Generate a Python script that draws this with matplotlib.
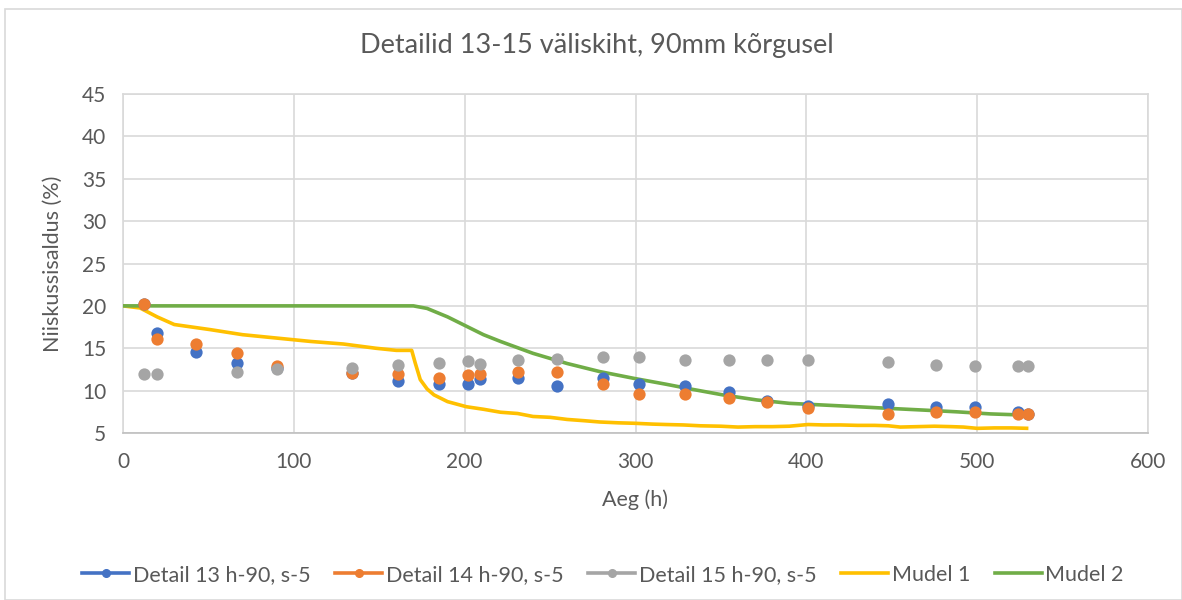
import matplotlib
matplotlib.use("Agg")
import matplotlib.pyplot as plt
from matplotlib.lines import Line2D
from matplotlib.patches import Rectangle

plt.rcParams['font.family'] = ['Lato', 'DejaVu Sans']

title = "Detailid 13-15 väliskiht, 90mm kõrgusel"
xlabel = "Aeg (h)"
ylabel = "Niiskussisaldus (%)"

# Measurement times (h)
t_meas = [12, 20, 43, 67, 90, 134, 161, 185, 202, 209, 231, 254, 281, 302, 329,
          355, 377, 401, 448, 476, 499, 524, 530]
detail13 = [20.2, 16.8, 14.55, 13.3, 12.7, 12.1, 11.15, 10.8, 10.8, 11.35, 11.45, 10.5, 11.45, 10.8, 10.6,
            9.8, 8.8, 8.2, 8.4, 8.1, 8.1, 7.5, 7.3]
detail14 = [20.2, 16.1, 15.5, 14.4, 12.85, 12.05, 11.95, 11.45, 11.8, 11.95, 12.15, 12.15, 10.8, 9.6, 9.6,
            9.1, 8.6, 8.0, 7.25, 7.45, 7.45, 7.2, 7.2]
detail15 = [11.95, 11.95, None, 12.25, 12.6, 12.7, 13.0, 13.25, 13.5, 13.2, 13.65, 13.7, 13.95, 13.95, 13.65,
            13.65, 13.65, 13.65, 13.35, 13.0, 12.85, 12.85, 12.85]

# Model 1
m1_t = [0, 10, 20, 30, 51, 70, 90, 110, 129, 148, 160, 169, 171, 174, 178, 182, 190, 201, 211, 221,
        231, 240, 250, 260, 270, 279, 290, 299, 310, 318, 328, 338, 350, 360, 370, 380, 390, 401, 410,
        420, 430, 440, 448, 455, 465, 475, 485, 492, 500, 510, 520, 530]
m1_v = [20.0, 19.75, 18.7, 17.8, 17.2, 16.6, 16.2, 15.8, 15.5, 15.0, 14.75, 14.75, 13.3, 11.3, 10.2,
        9.5, 8.7, 8.1, 7.8, 7.45, 7.3, 6.95, 6.85, 6.6, 6.45, 6.3, 6.2, 6.15, 6.05, 6.0, 5.95, 5.85,
        5.8, 5.7, 5.75, 5.75, 5.8, 6.0, 5.95, 5.95, 5.9, 5.9, 5.85, 5.7, 5.75, 5.8, 5.75, 5.7, 5.55,
        5.6, 5.6, 5.55]

# Model 2
m2_t = [0, 50, 100, 150, 170, 178, 190, 201, 211, 221, 240, 260, 279, 299, 318, 332, 351, 371, 390,
        410, 430, 449, 469, 488, 508, 530]
m2_v = [20.0, 20.0, 20.0, 20.0, 20.0, 19.7, 18.7, 17.6, 16.6, 15.8, 14.4, 13.2, 12.25, 11.45, 10.75,
        10.2, 9.5, 8.9, 8.5, 8.3, 8.1, 7.9, 7.7, 7.5, 7.25, 7.1]

xticks = [0, 100, 200, 300, 400, 500, 600]
yticks = [5, 10, 15, 20, 25, 30, 35, 40, 45]

c_blue = "#4472C4"
c_orange = "#ED7D31"
c_gray = "#A5A5A5"
c_yellow = "#FFC000"
c_green = "#70AD47"
txt = "#595959"
grid = "#D9D9D9"

fig = plt.figure(figsize=(11.82, 6.0), dpi=100)
ax = fig.add_axes([123/1182, 1 - 433/600, (1148-123)/1182, (433-94)/600])

def pts(t, v):
    xs = [a for a, b in zip(t, v) if b is not None]
    ys = [b for b in v if b is not None]
    return xs, ys

ax.plot(m1_t, m1_v, color=c_yellow, lw=2.6, zorder=3, solid_capstyle='butt')
ax.plot(m2_t, m2_v, color=c_green, lw=2.6, zorder=3, solid_capstyle='butt')
for vals, col in [(detail13, c_blue), (detail14, c_orange), (detail15, c_gray)]:
    xs, ys = pts(t_meas, vals)
    ax.scatter(xs, ys, s=78, color=col, zorder=4, linewidths=0)

ax.set_xlim(0, 600)
ax.set_ylim(5, 45)
ax.set_xticks(xticks)
ax.set_yticks(yticks)
ax.grid(True, color=grid, lw=1.2)
ax.set_axisbelow(True)
for s in ax.spines.values():
    s.set_color(grid)
    s.set_linewidth(1.2)
ax.spines['bottom'].set_color("#BFBFBF")
ax.tick_params(axis='x', length=0, labelsize=15, colors=txt, pad=14)
ax.tick_params(axis='y', length=0, labelsize=15, colors=txt, pad=12)
ax.set_xlabel(xlabel, fontsize=15.5, color=txt, labelpad=12)
ax.set_ylabel(ylabel, fontsize=15.5, color=txt, labelpad=14)

fig.text(0.505, 1 - 45/600, title, ha='center', va='center', fontsize=19.5, color=txt)

handles = [
    Line2D([], [], color=c_blue, lw=2.6, marker='o', ms=5.5),
    Line2D([], [], color=c_orange, lw=2.6, marker='o', ms=5.5),
    Line2D([], [], color=c_gray, lw=2.6, marker='o', ms=5.5),
    Line2D([], [], color=c_yellow, lw=2.6),
    Line2D([], [], color=c_green, lw=2.6),
]
labels = ["Detail 13 h-90, s-5", "Detail 14 h-90, s-5", "Detail 15 h-90, s-5", "Mudel 1", "Mudel 2"]
fig.legend(handles, labels, loc='center', bbox_to_anchor=(0.51, 1 - 575/600), ncol=5,
           frameon=False, fontsize=15.5, labelcolor=txt, handlelength=2.2, handletextpad=0.15,
           columnspacing=1.15)

fig.patches.append(Rectangle((5/1182, 0), 1 - 5/1182, 1 - 9/600, transform=fig.transFigure,
                             fill=False, edgecolor=grid, lw=1.2))

fig.savefig("out.png", dpi=100)
